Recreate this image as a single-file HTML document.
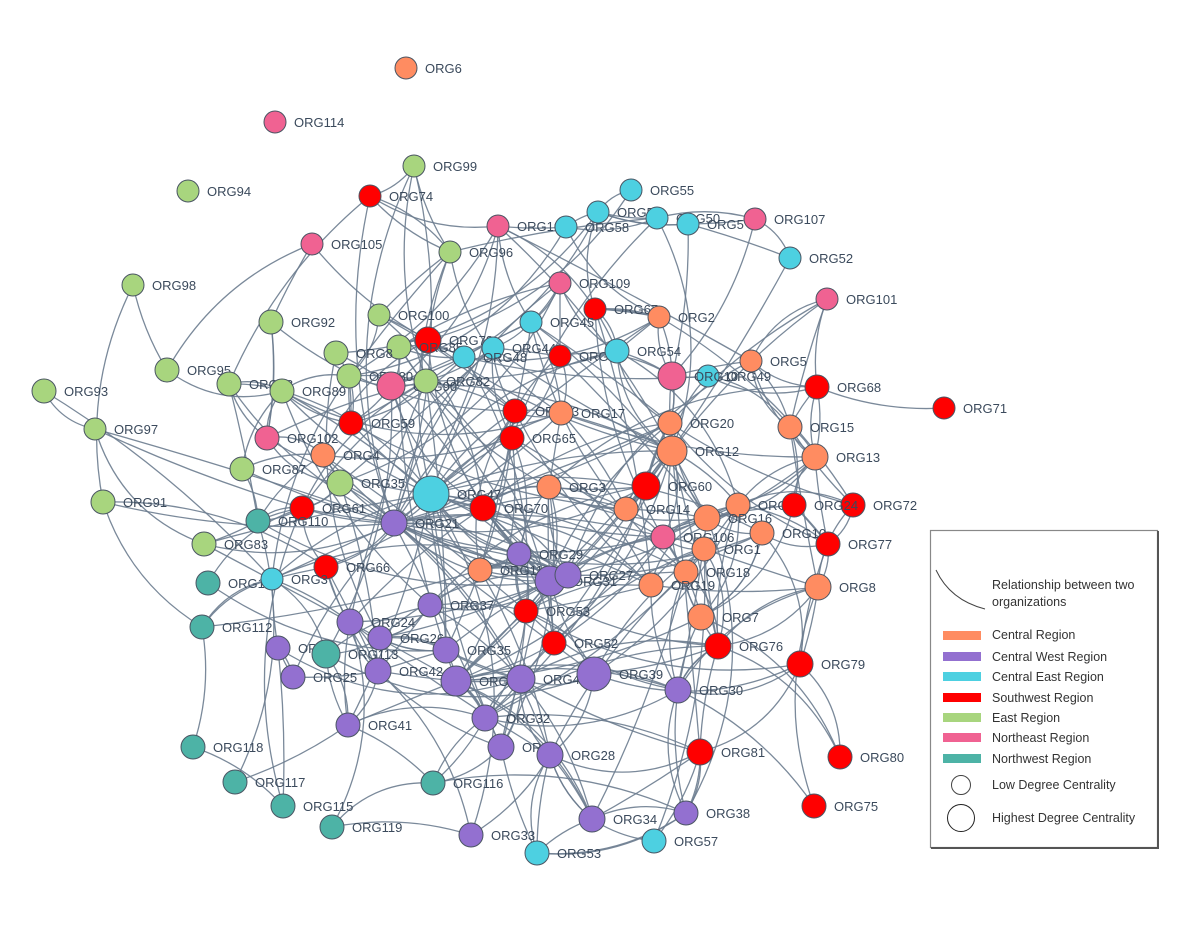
<!DOCTYPE html>
<html><head><meta charset="utf-8"><style>
html,body{margin:0;padding:0;background:#fff}
svg{display:block}
.lab{font-family:"Liberation Sans",sans-serif;font-size:13px;fill:#3b4a5c}
.lg{font-family:"Liberation Sans",sans-serif;font-size:12.5px;fill:#333}
</style></head><body>
<svg id="s" width="1200" height="927" xmlns="http://www.w3.org/2000/svg">
<g id="edges" fill="none" stroke="#6b7c8f" stroke-width="1.3" stroke-opacity="0.9"></g>
<g id="nodes"></g>
<g>
<rect x="930.5" y="530.5" width="227" height="317" fill="#fff" stroke="#888" stroke-width="1.2"/>
<line x1="1158" y1="531" x2="1158" y2="849" stroke="#555" stroke-width="2"/>
<line x1="931" y1="848" x2="1159" y2="848" stroke="#555" stroke-width="2"/>
<path d="M936 570 Q950 600 985 609" fill="none" stroke="#444" stroke-width="1"/>
<text class="lg" x="992" y="589">Relationship between two</text>
<text class="lg" x="992" y="606">organizations</text>
<rect x="943" y="631" width="38" height="9" fill="#ff8c61"/><text class="lg" x="992" y="639">Central Region</text>
<rect x="943" y="652" width="38" height="9" fill="#9370d0"/><text class="lg" x="992" y="661">Central West Region</text>
<rect x="943" y="672" width="38" height="9" fill="#4dd0e1"/><text class="lg" x="992" y="681">Central East Region</text>
<rect x="943" y="693" width="38" height="9" fill="#ff0000"/><text class="lg" x="992" y="702">Southwest Region</text>
<rect x="943" y="713" width="38" height="9" fill="#a8d57e"/><text class="lg" x="992" y="722">East Region</text>
<rect x="943" y="733" width="38" height="9" fill="#f06292"/><text class="lg" x="992" y="742">Northeast Region</text>
<rect x="943" y="754" width="38" height="9" fill="#4db3a6"/><text class="lg" x="992" y="763">Northwest Region</text>
<circle cx="961" cy="785" r="9.5" fill="#fff" stroke="#444"/><text class="lg" x="992" y="789">Low Degree Centrality</text>
<circle cx="961" cy="818" r="13.5" fill="#fff" stroke="#222"/><text class="lg" x="992" y="822">Highest Degree Centrality</text>
</g>
</svg>
<script>
var C={o:"#ff8c61",p:"#9370d0",c:"#4dd0e1",r:"#ff0000",g:"#a8d57e",k:"#f06292",t:"#4db3a6"};
var N=[
["ORG6",406,68,"o",11],["ORG114",275,122,"k",11],["ORG99",414,166,"g",11],["ORG94",188,191,"g",11],
["ORG74",370,196,"r",11],["ORG104",498,226,"k",11],["ORG58",566,227,"c",11],["ORG51",598,212,"c",11],
["ORG55",631,190,"c",11],["ORG50",657,218,"c",11],["ORG5",688,224,"c",11],["ORG107",755,219,"k",11],
["ORG105",312,244,"k",11],["ORG96",450,252,"g",11],["ORG52",790,258,"c",11],["ORG98",133,285,"g",11],
["ORG109",560,283,"k",11],["ORG101",827,299,"k",11],["ORG67",595,309,"r",11],["ORG2",659,317,"o",11],
["ORG45",531,322,"c",11],["ORG92",271,322,"g",12],["ORG100",379,315,"g",11],["ORG78",428,340,"r",13],
["ORG85",399,347,"g",12],["ORG8",336,353,"g",12],["ORG44",493,348,"c",11],["ORG48",464,357,"c",11],
["ORG6",560,356,"r",11],["ORG54",617,351,"c",12],["ORG5",751,361,"o",11],["ORG49",708,376,"c",11],
["ORG10",672,376,"k",14],["ORG68",817,387,"r",12],["ORG71",944,408,"r",11],["ORG95",167,370,"g",12],
["ORG93",44,391,"g",12],["ORG88",229,384,"g",12],["ORG89",282,391,"g",12],["ORG80",349,376,"g",12],
["ORG90",391,386,"k",14],["ORG82",426,381,"g",12],["ORG97",95,429,"g",11],["ORG59",351,423,"r",12],
["ORG102",267,438,"k",12],["ORG4",323,455,"o",12],["ORG63",515,411,"r",12],["ORG17",561,413,"o",12],
["ORG65",512,438,"r",12],["ORG20",670,423,"o",12],["ORG15",790,427,"o",12],["ORG12",672,451,"o",15],
["ORG13",815,457,"o",13],["ORG87",242,469,"g",12],["ORG35",340,483,"g",13],["ORG47",431,494,"c",18],
["ORG3",549,487,"o",12],["ORG60",646,486,"r",14],["ORG72",853,505,"r",12],["ORG91",103,502,"g",12],
["ORG61",302,508,"r",12],["ORG70",483,508,"r",13],["ORG14",626,509,"o",12],["ORG0",738,505,"o",12],
["ORG16",707,518,"o",13],["ORG24",794,505,"r",12],["ORG10",762,533,"o",12],["ORG77",828,544,"r",12],
["ORG110",258,521,"t",12],["ORG21",394,523,"p",13],["ORG106",663,537,"k",12],["ORG1",704,549,"o",12],
["ORG83",204,544,"g",12],["ORG29",519,554,"p",12],["ORG11",480,570,"o",12],["ORG66",326,567,"r",12],
["ORG1",208,583,"t",12],["ORG18",686,572,"o",12],["ORG31",550,581,"p",15],["ORG27",568,575,"p",13],
["ORG19",651,585,"o",12],["ORG8",818,587,"o",13],["ORG3",272,579,"c",11],["ORG37",430,605,"p",12],
["ORG53",526,611,"r",12],["ORG112",202,627,"t",12],["ORG24",350,622,"p",13],["ORG26",380,638,"p",12],
["ORG7",701,617,"o",13],["ORG76",718,646,"r",13],["ORG52",554,643,"r",12],["ORG9",278,648,"p",12],
["ORG113",326,654,"t",14],["ORG35",446,650,"p",13],["ORG79",800,664,"r",13],["ORG25",293,677,"p",12],
["ORG42",378,671,"p",13],["ORG4",456,681,"p",15],["ORG43",521,679,"p",14],["ORG39",594,674,"p",17],
["ORG30",678,690,"p",13],["ORG32",485,718,"p",13],["ORG41",348,725,"p",12],["ORG118",193,747,"t",12],
["ORG4",501,747,"p",13],["ORG28",550,755,"p",13],["ORG81",700,752,"r",13],["ORG80",840,757,"r",12],
["ORG116",433,783,"t",12],["ORG117",235,782,"t",12],["ORG115",283,806,"t",12],["ORG38",686,813,"p",12],
["ORG75",814,806,"r",12],["ORG34",592,819,"p",13],["ORG33",471,835,"p",12],["ORG57",654,841,"c",12],
["ORG119",332,827,"t",12],["ORG53",537,853,"c",12]];
var seed=777;function rnd(){seed=(seed*1103515245+12345)%2147483648;return seed/2147483648;}
var E=document.getElementById("edges"),G=document.getElementById("nodes"),ns="http://www.w3.org/2000/svg";
var iso={0:1,1:1,3:1,34:1};
function edge(a,b){var A=N[a],B=N[b];var mx=(A[1]+B[1])/2,my=(A[2]+B[2])/2,dx=B[1]-A[1],dy=B[2]-A[2];
var k=(rnd()-0.5)*0.5;var p=document.createElementNS(ns,"path");
p.setAttribute("d","M"+A[1]+" "+A[2]+" Q"+(mx-dy*k)+" "+(my+dx*k)+" "+B[1]+" "+B[2]);E.appendChild(p);}
edge(34,33);edge(2,4);
var CX=560,CY=500;
N.forEach(function(n,i){if(iso[i])return;
var d=[];N.forEach(function(m,j){if(j!==i&&!iso[j]){var dd=Math.hypot(m[1]-n[1],m[2]-n[2]);d.push([dd,j]);}});
d.sort(function(a,b){return a[0]-b[0];});
var dc=Math.hypot(n[1]-CX,n[2]-CY);
var near=d.slice(0,8);
var cnt=n[4]>=13?4:(dc>300?1:2);
for(var q=0;q<cnt;q++){edge(i,near[Math.floor(rnd()*near.length)][1]);}
var far=d.filter(function(x){return x[0]<300 && Math.hypot(N[x[1]][1]-CX,N[x[1]][2]-CY)<dc+40;});
var fc=n[4]>=13?3:(dc>300?1:2);
for(var q=0;q<fc;q++){if(far.length)edge(i,far[Math.floor(rnd()*far.length)][1]);}
});
// hub fans: ORG21 (idx 69) and ORG47 (idx 55)
[[69,26],[55,20],[97,10],[51,10]].forEach(function(h){var H=N[h[0]];
var c=[];N.forEach(function(m,j){if(j!==h[0]&&!iso[j]&&Math.hypot(m[1]-H[1],m[2]-H[2])<360)c.push(j);});
for(var q=0;q<h[1];q++)edge(h[0],c[Math.floor(rnd()*c.length)]);});
N.forEach(function(n){var c=document.createElementNS(ns,"circle");c.setAttribute("cx",n[1]);c.setAttribute("cy",n[2]);
c.setAttribute("r",n[4]);c.setAttribute("fill",C[n[3]]);c.setAttribute("stroke","#4a5563");c.setAttribute("stroke-width","1");G.appendChild(c);
var t=document.createElementNS(ns,"text");t.setAttribute("class","lab");t.setAttribute("x",n[1]+n[4]+8);t.setAttribute("y",n[2]+5);t.textContent=n[0];G.appendChild(t);});
</script>
</body></html>
